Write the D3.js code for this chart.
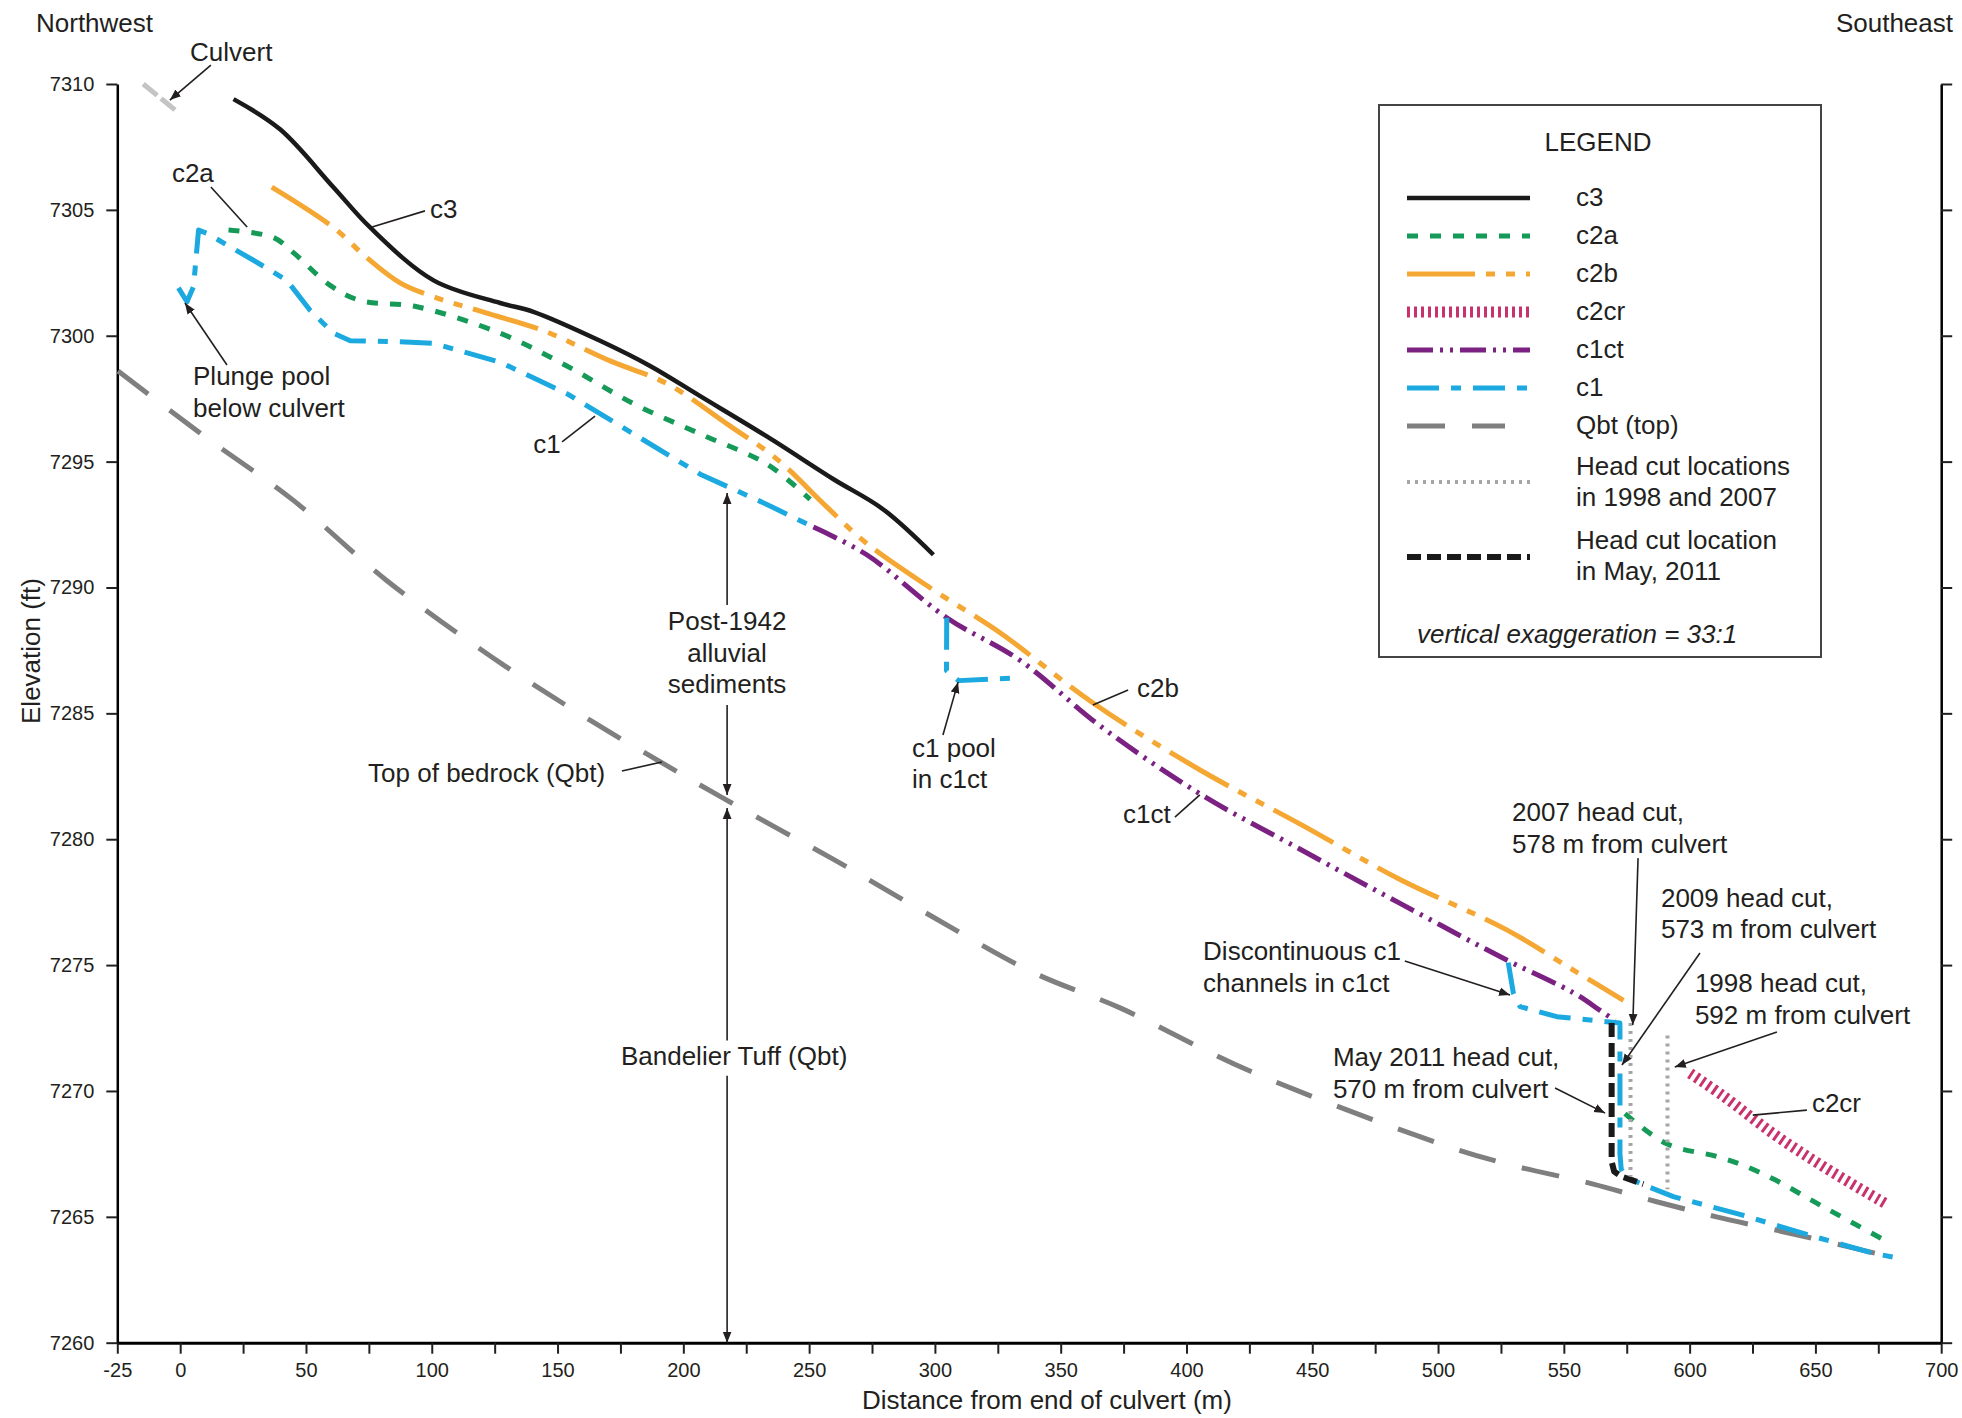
<!DOCTYPE html>
<html>
<head>
<meta charset="utf-8">
<script src="https://cdn.jsdelivr.net/npm/d3@7"></script>
<style>
body { margin: 0; background: #fff; }
text { font-family: "Liberation Sans", Arial, sans-serif; fill: #231f20; }
</style>
</head>
<body>
<svg id="chart" width="1962" height="1418"></svg>
<script>

// profile data: [distance from culvert (m), elevation (ft)]
var c3 = [[21.2,7309.4],[39.7,7308.2],[60.9,7305.9],[75.5,7304.3],[100.7,7302.2],[127.2,7301.3],
	[140.4,7300.95],[166.9,7299.8],[186.8,7298.8],[206.7,7297.6],[233.2,7296.0],[259.7,7294.3],
	[279.5,7293.1],[299.4,7291.3]];

var c2b = [[36.4,7305.9],[60.9,7304.3],[74.2,7303.1],[87.4,7302.1],[100.6,7301.55],[121.9,7300.9],
	[144.4,7300.2],[170.9,7299.0],[193.4,7298.1],[217.3,7296.5],[237.2,7295.1],[257,7293.2],
	[272.9,7291.75],[299.4,7289.9],[325.9,7288.2],[363,7285.4],[405.4,7282.75],[445.2,7280.6],
	[484.9,7278.4],[527.3,7276.4],[553.8,7274.8],[573.7,7273.6]];

var c2aUpper = [[19.2,7304.2],[37.1,7303.9],[45,7303.3],[59.6,7302.0],[71.5,7301.4],[94.1,7301.15],
	[127.2,7300.1],[153.7,7298.8],[180.2,7297.3],[206.7,7296.1],[233.2,7294.9],[250.4,7293.5]];
var c2aLower = [[574.3,7269.1],[590.9,7267.9],[610.7,7267.4],[620,7267.1],[633.3,7266.5],
	[653.1,7265.4],[677,7264.1]];

var c2cr = [[600.2,7270.7],[613.4,7269.8],[633.3,7268.3],[653.1,7267.0],[678.3,7265.5]];

var c1ct = [[251.7,7292.4],[272.9,7291.3],[304.7,7288.8],[333.9,7287.1],[365.7,7284.5],[405.4,7281.8],
	[445.2,7279.6],[484.9,7277.45],[527.3,7275.2],[553.8,7273.9],[564.4,7273.2],[570.3,7272.8]];

var c1Upper = [[-0.7,7301.9],[2.7,7301.35],[5.3,7301.95],[7.3,7304.2],[10.6,7304.07],[29.1,7303.0],
	[42.4,7302.2],[51.7,7301.0],[60.9,7300.1],[67.6,7299.8],[87.4,7299.76],[100.7,7299.7],
	[127.2,7298.95],[153.7,7297.7],[180.2,7296.1],[206.7,7294.5],[233.2,7293.3],[251.7,7292.4]];
var c1Pool = [[304.7,7288.8],[304.6,7286.7],[309.4,7286.3],[332.2,7286.4]];
var c1Lower = [[527.9,7275.1],[529.9,7273.9],[532.6,7273.35],[547.2,7272.95],[567,7272.75],[572.3,7272.7],
	[572.3,7267.5],[572.8,7266.9],[574.3,7266.6],[580.3,7266.33],[593.5,7265.8],[620,7265.1],
	[646.5,7264.3],[673,7263.55],[681,7263.4]];

var qbt = [[-24.7,7298.6],[9,7296.05],[44.5,7293.5],[81.8,7290.3],[124.4,7287.2],[163.4,7284.7],
	[192.1,7283.0],[214.6,7281.7],[237.9,7280.4],[259.7,7279.2],[299.4,7276.9],[339.2,7274.7],
	[373.6,7273.3],[425,7270.8],[500.8,7267.9],[527.3,7267.1],[561.7,7266.3],[586.9,7265.6],
	[610.7,7265.0],[646.5,7264.2],[682.3,7263.35]];

var culvert = [[-14.7,7310.0],[-1.2,7308.9]];

var headCut2011 = [[569,7272.7],[569,7267.2],[570,7266.8],[573,7266.6],[581.6,7266.3]];
var headCut2007 = [[576.5,7272.7],[576.5,7266.6]];
var headCut1998 = [[591.2,7272.2],[591.2,7266.1]];

var xTicks = d3.range(-25, 701, 25);
var yTicks = d3.range(7260, 7311, 5);

var legendNames = ["c3","c2a","c2b","c2cr","c1ct","c1","Qbt (top)"];
var legendKeys  = ["c3","c2a","c2b","c2cr","c1ct","c1","qbt"];

// line styles
var styles = {
	c3:      {color:"#1a1a1a", w:4.5, dash:null},
	c2a:     {color:"#159a58", w:5,   dash:"11,12"},
	c2b:     {color:"#f5a733", w:5,   dash:"68,11,9,11,9,11"},
	c2cr:    {color:"#c8336e", w:11,  dash:"3,4"},
	c1ct:    {color:"#7a2182", w:5,   dash:"26,7,3,7,3,7"},
	c1:      {color:"#1ba9e0", w:5,   dash:"32,12,10,12"},
	qbt:     {color:"#7f7f7f", w:5,   dash:"38,27"},
	culvert: {color:"#c4c4c4", w:5,   dash:"18,5"},
	hcOld:   {color:"#a6a6a6", w:4,   dash:"3,5"},
	hc2011:  {color:"#1a1a1a", w:6,   dash:"14,6"}
};

var svg = d3.select("#chart");
var x = d3.scaleLinear().domain([-25, 700]).range([117.3, 1941.2]);
var y = d3.scaleLinear().domain([7260, 7310]).range([1342.7, 84]);

svg.append("defs").append("marker")
	.attr("id","arrow")
	.attr("viewBox","0 0 10 10")
	.attr("refX",10).attr("refY",5)
	.attr("markerWidth",11).attr("markerHeight",11)
	.attr("markerUnits","userSpaceOnUse")
	.attr("orient","auto")
	.append("path").attr("d","M0,1 L10,5 L0,9 Z").attr("fill","#231f20");

// axes
var xAxis = svg.append("g")
	.attr("transform","translate(0," + y(7260) + ")")
	.call(d3.axisBottom(x).tickValues(xTicks).tickSize(11).tickSizeOuter(0).tickPadding(9)
		.tickFormat(function(d){ return (d == -25 || d % 50 == 0) ? d : ""; }));
xAxis.select(".domain").attr("stroke-width",3);

var yAxis = svg.append("g")
	.attr("transform","translate(" + x(-25) + ",0)")
	.call(d3.axisLeft(y).tickValues(yTicks).tickSize(11).tickSizeOuter(0).tickPadding(12)
		.tickFormat(d3.format("d")));
yAxis.select(".domain").attr("stroke-width",2.5);

var yAxisR = svg.append("g")
	.attr("transform","translate(" + x(700) + ",0)")
	.call(d3.axisRight(y).tickValues(yTicks).tickSize(11).tickSizeOuter(0).tickFormat(""));
yAxisR.select(".domain").attr("stroke-width",2.5);

svg.selectAll(".tick line").attr("stroke","#231f20").attr("stroke-width",2);
svg.selectAll(".tick text").style("font-size","20px").style("font-family","Liberation Sans, Arial, sans-serif").attr("fill","#231f20");

svg.append("text").attr("x",1047).attr("y",1409).attr("text-anchor","middle")
	.style("font-size","26px").text("Distance from end of culvert (m)");
svg.append("text").attr("transform","translate(40,651) rotate(-90)").attr("text-anchor","middle")
	.style("font-size","26px").text("Elevation (ft)");
svg.append("text").attr("x",36).attr("y",32).style("font-size","26px").text("Northwest");
svg.append("text").attr("x",1953).attr("y",32).attr("text-anchor","end").style("font-size","26px").text("Southeast");

// profile lines
var smooth = d3.curveCatmullRom.alpha(0.5);
var layers = [
	{data:qbt, s:"qbt", curve:smooth},
	{data:culvert, s:"culvert", curve:d3.curveLinear},
	{data:c2b, s:"c2b", curve:smooth},
	{data:c2aUpper, s:"c2a", curve:smooth},
	{data:c2aLower, s:"c2a", curve:smooth},
	{data:c1ct, s:"c1ct", curve:smooth},
	{data:c1Upper, s:"c1", curve:d3.curveLinear},
	{data:c1Pool, s:"c1", curve:d3.curveLinear},
	{data:c1Lower, s:"c1", curve:d3.curveLinear},
	{data:c3, s:"c3", curve:smooth},
	{data:c2cr, s:"c2cr", curve:smooth},
	{data:headCut2011, s:"hc2011", curve:d3.curveLinear},
	{data:headCut2007, s:"hcOld", curve:d3.curveLinear},
	{data:headCut1998, s:"hcOld", curve:d3.curveLinear}
];

svg.append("g").selectAll("path")
	.data(layers)
	.join("path")
	.attr("fill","none")
	.attr("d", function(l){
		return d3.line().x(function(p){ return x(p[0]); }).y(function(p){ return y(p[1]); }).curve(l.curve)(l.data);
	})
	.attr("stroke", function(l){ return styles[l.s].color; })
	.attr("stroke-width", function(l){ return styles[l.s].w; })
	.attr("stroke-dasharray", function(l){ return styles[l.s].dash; })
	.attr("stroke-linejoin","round");

// annotation texts (first baseline in data units, extra lines 31.5px below)
var notes = [
	{lines:["Culvert"], at:[3.9,7310.91]},
	{lines:["c2a"], at:[-3.3,7306.11]},
	{lines:["c3"], at:[99.3,7304.68]},
	{lines:["Plunge pool","below culvert"], at:[5.1,7298.04]},
	{lines:["c1"], at:[140.3,7295.34]},
	{lines:["Post-1942","alluvial","sediments"], at:[217.4,7288.31], anchor:"middle"},
	{lines:["Top of bedrock (Qbt)"], at:[74.7,7282.27]},
	{lines:["Bandelier Tuff (Qbt)"], at:[220.2,7271.03], anchor:"middle"},
	{lines:["c1 pool","in c1ct"], at:[290.9,7283.27]},
	{lines:["c2b"], at:[380.3,7285.65]},
	{lines:["c1ct"], at:[374.8,7280.64]},
	{lines:["Discontinuous c1","channels in c1ct"], at:[406.6,7275.2]},
	{lines:["2007 head cut,","578 m from culvert"], at:[529.4,7280.72]},
	{lines:["2009 head cut,","573 m from culvert"], at:[588.6,7277.31]},
	{lines:["1998 head cut,","592 m from culvert"], at:[602.1,7273.93]},
	{lines:["May 2011 head cut,","570 m from culvert"], at:[458.2,7270.99]},
	{lines:["c2cr"], at:[648.6,7269.16]}
];

var noteG = svg.append("g");
notes.forEach(function(n){
	var t = noteG.append("text")
		.attr("text-anchor", n.anchor || "start")
		.style("font-size","26px");
	n.lines.forEach(function(s,i){
		t.append("tspan").attr("x", x(n.at[0])).attr("y", y(n.at[1]) + i*31.5).text(s);
	});
});

// leaders and arrows: [from, to, arrowhead]
var pointers = [
	[[12.2,7310.75],[-4.1,7309.36],true],
	[[12.2,7305.91],[26.6,7304.32],false],
	[[97.3,7304.96],[76.3,7304.32],false],
	[[18.6,7298.84],[1.9,7301.3],true],
	[[151.8,7295.78],[164.9,7296.81],false],
	[[217.4,7289.3],[217.4,7293.75],true],
	[[217.4,7285.33],[217.4,7281.76],true],
	[[217.4,7272.0],[217.4,7281.24],true],
	[[217.4,7270.6],[217.4,7260.0],true],
	[[175.6,7282.71],[191.5,7283.07],false],
	[[303.2,7284.14],[309.2,7286.24],true],
	[[376.8,7285.93],[362.8,7285.33],false],
	[[395.4,7280.88],[405.3,7281.76],false],
	[[486.8,7275.16],[528.6,7273.81],true],
	[[579.5,7279.25],[577.4,7272.62],true],
	[[604.1,7275.48],[573.1,7271.03],true],
	[[634.7,7272.34],[594.1,7270.95],true],
	[[546.5,7270.12],[566.4,7269.12],true],
	[[646.6,7269.24],[625.1,7269.04],false]
];

svg.append("g").selectAll("line")
	.data(pointers)
	.join("line")
	.attr("x1", function(p){ return x(p[0][0]); })
	.attr("y1", function(p){ return y(p[0][1]); })
	.attr("x2", function(p){ return x(p[1][0]); })
	.attr("y2", function(p){ return y(p[1][1]); })
	.attr("stroke","#231f20")
	.attr("stroke-width",1.6)
	.attr("marker-end", function(p){ return p[2] ? "url(#arrow)" : null; });

// legend
var lg = svg.append("g");
lg.append("rect").attr("x",1379).attr("y",105).attr("width",442).attr("height",552)
	.attr("fill","#fff").attr("stroke","#444").attr("stroke-width",2);
lg.append("text").attr("x",1598).attr("y",151).attr("text-anchor","middle").style("font-size","26px").text("LEGEND");

var rowY = d3.scaleLinear().domain([0,6]).range([198,426]);
legendKeys.forEach(function(k,i){
	var st = styles[k];
	lg.append("line").attr("x1",1407).attr("x2", k == "qbt" ? 1505 : 1530)
		.attr("y1",rowY(i)).attr("y2",rowY(i))
		.attr("stroke",st.color).attr("stroke-width",st.w).attr("stroke-dasharray",st.dash);
	lg.append("text").attr("x",1576).attr("y",rowY(i)+8).style("font-size","26px").text(legendNames[i]);
});

var extraRows = [
	{s:"hcOld", lineY:482, lines:["Head cut locations","in 1998 and 2007"], base:475},
	{s:"hc2011", lineY:557, lines:["Head cut location","in May, 2011"], base:549}
];
extraRows.forEach(function(r){
	var st = styles[r.s];
	lg.append("line").attr("x1",1407).attr("x2",1530).attr("y1",r.lineY).attr("y2",r.lineY)
		.attr("stroke",st.color).attr("stroke-width",st.w).attr("stroke-dasharray",st.dash);
	var t = lg.append("text").style("font-size","26px");
	r.lines.forEach(function(s,i){
		t.append("tspan").attr("x",1576).attr("y",r.base + i*31).text(s);
	});
});

lg.append("text").attr("x",1417).attr("y",643).style("font-size","26px").style("font-style","italic")
	.text("vertical exaggeration = 33:1");

</script>
</body>
</html>
